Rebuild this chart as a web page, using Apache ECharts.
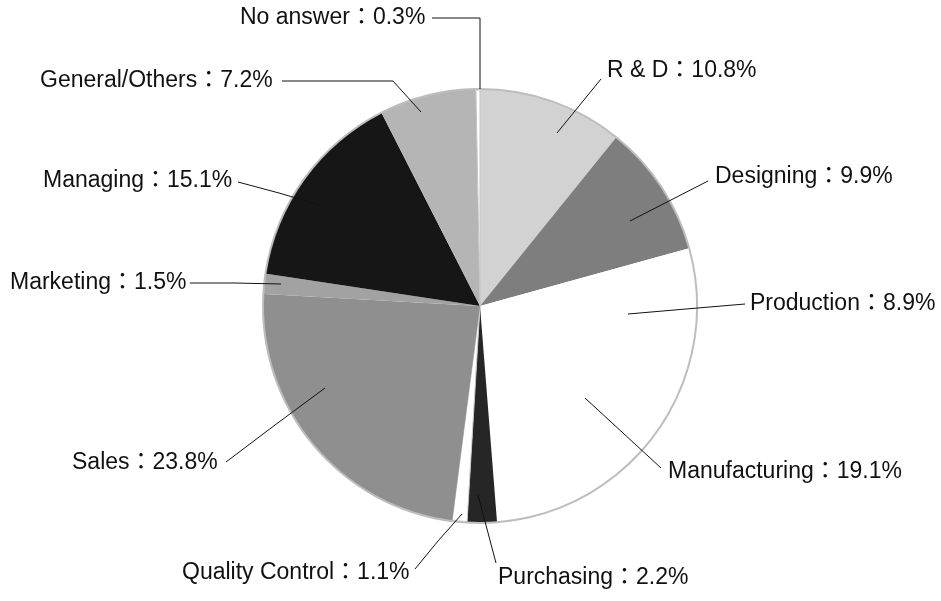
<!DOCTYPE html>
<html>
<head>
<meta charset="utf-8">
<script src="https://cdn.jsdelivr.net/npm/echarts@6/dist/echarts.min.js"></script>
<style>
  html, body { margin: 0; padding: 0; background: #fff; }
  #chart { width: 941px; height: 601px; }
</style>
</head>
<body>
<div id="chart"></div>
<script>
// 职种分布（%），从12点方向顺时针
var jobNames = ["R & D", "Designing", "Production", "Manufacturing", "Purchasing",
  "Quality Control", "Sales", "Marketing", "Managing", "General/Others", "No answer"];
var jobShares = [10.8, 9.9, 8.9, 19.1, 2.2, 1.1, 23.8, 1.5, 15.1, 7.2, 0.3];

// 灰度填充
var sliceColors = ["#d2d2d2", "#7e7e7e", "#ffffff", "#ffffff", "#262626",
  "#ffffff", "#8f8f8f", "#a2a2a2", "#161616", "#b5b5b5", "#ffffff"];

// 标签位置（左端x, 中心y）和引线点
var labelSpots = [
  { x: 607, y: 71, line: [[601, 79], [579, 106], [557, 133]] },
  { x: 715, y: 177, line: [[708, 181], [669, 201], [630, 221]] },
  { x: 750, y: 304, line: [[745, 304], [686, 309], [628, 314]] },
  { x: 668, y: 472, line: [[661, 468], [623, 433], [585, 398]] },
  { x: 498, y: 578, line: [[496, 563], [487, 529], [478, 495]] },
  { x: 182, y: 573, line: [[415, 569], [438, 541], [462, 514]] },
  { x: 72, y: 463, line: [[226, 462], [275, 425], [325, 388]] },
  { x: 10, y: 283, line: [[190, 283], [235, 283], [281, 284]] },
  { x: 43, y: 181, line: [[238, 182], [279, 193], [320, 205]] },
  { x: 40, y: 81, line: [[282, 81], [393, 81], [421, 112]] },
  { x: 240, y: 18, line: [[432, 18], [480, 18], [480, 89]] }
];

var chart = echarts.init(document.getElementById("chart"));

var pieData = jobNames.map(function (n, i) {
  var item = { name: n, value: jobShares[i], itemStyle: { color: sliceColors[i] } };
  if (n === "Quality Control" || n === "No answer") {
    item.itemStyle.borderColor = "#c4c4c4";
    item.itemStyle.borderWidth = 1;
  }
  return item;
});

var plainData = jobShares.map(function (v, i) { return { name: jobNames[i], value: v }; });

chart.setOption({
  animation: false,
  series: [
    {
      // 外圈细线
      type: "pie",
      silent: true,
      z: 1,
      center: [480, 306],
      radius: [215, 218],
      startAngle: 90,
      label: { show: false },
      labelLine: { show: false },
      itemStyle: { color: "#bdbdbd", borderWidth: 0 },
      data: plainData
    },
    {
      type: "pie",
      silent: true,
      z: 2,
      center: [480, 306],
      radius: 216,
      startAngle: 90,
      label: { show: false },
      labelLine: { show: false },
      itemStyle: { borderWidth: 0 },
      data: pieData
    },
    {
      // 标签层（透明扇区，引线画在最上面）
      type: "pie",
      silent: true,
      z: 3,
      center: [480, 306],
      radius: 216,
      startAngle: 90,
      avoidLabelOverlap: false,
      minShowLabelAngle: 0,
      itemStyle: { color: "rgba(0,0,0,0)", borderWidth: 0 },
      data: plainData,
      label: {
        show: true,
        position: "outside",
        formatter: "{b}：{c}%",
        color: "#111",
        fontSize: 23,
        fontFamily: "Liberation Sans, Noto Sans CJK JP, sans-serif"
      },
      labelLine: {
        show: true,
        lineStyle: { color: "#111", width: 1 }
      },
      labelLayout: function (params) {
        var s = labelSpots[params.dataIndex];
        return {
          x: s.x,
          y: s.y,
          align: "left",
          verticalAlign: "middle",
          labelLinePoints: s.line
        };
      }
    }
  ]
});
</script>
</body>
</html>
